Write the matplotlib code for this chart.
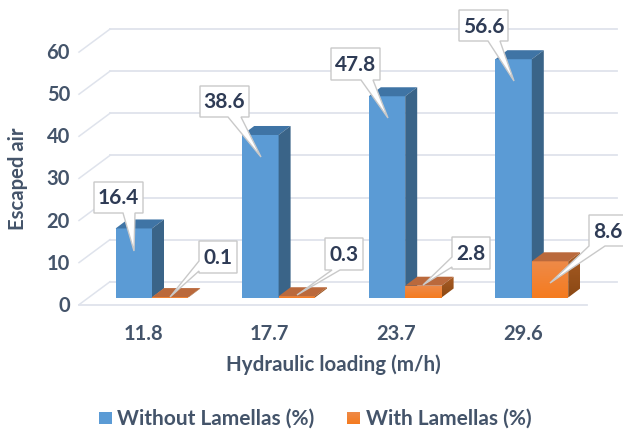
import numpy as np
import matplotlib
matplotlib.use('Agg')
import matplotlib.pyplot as plt
from matplotlib.colors import LinearSegmentedColormap
from matplotlib.patches import Polygon, Rectangle

categories = ['11.8', '17.7', '23.7', '29.6']
without_lamellas = [16.4, 38.6, 47.8, 56.6]
with_lamellas = [0.1, 0.3, 2.8, 8.6]
y_ticks = [0, 10, 20, 30, 40, 50, 60]

W, H = 623, 431
X_UNIT, Y_UNIT = 126.6, 4.21   # pixels per category, pixels per %
X0, Y0 = 152, 298.5            # pixel of first category, pixel of value 0


def X(px):
    return (px - X0) / X_UNIT


def Y(py):
    return (Y0 - py) / Y_UNIT


bar_w = 36.4 / X_UNIT
dx = 12 / X_UNIT
dy = 9 / Y_UNIT

TEXT = '#44546A'
DARK = '#2E3B55'
GRID = '#DFE3EC'

plt.rcParams['font.family'] = ['Lato', 'DejaVu Sans']

fig = plt.figure(figsize=(W / 100, H / 100), dpi=100)
ax = fig.add_axes([0, 0, 1, 1])

orange_cm = LinearSegmentedColormap.from_list('front', ['#EE8A48', '#F57B1F'])
side_cm = LinearSegmentedColormap.from_list('side', ['#A85C24', '#8A4814'])
grad = np.linspace(0, 1, 64).reshape(-1, 1)


def gradient_poly(xy, cmap, z):
    xy = np.array(xy)
    poly = Polygon(xy, closed=True, fc='none', ec='none', zorder=z)
    ax.add_patch(poly)
    im = ax.imshow(grad, cmap=cmap, aspect='auto', zorder=z,
                   extent=[xy[:, 0].min(), xy[:, 0].max(), xy[:, 1].min(), xy[:, 1].max()])
    im.set_clip_path(poly)


def bar3d(left, value, front, top, side, z):
    right = left + bar_w
    if isinstance(front, str):
        ax.add_patch(Rectangle((left, 0), bar_w, value, fc=front, ec='none', zorder=z))
    else:
        gradient_poly([(left, 0), (right, 0), (right, value), (left, value)], front, z)
    top_xy = [(left, value), (right, value), (right + dx, value + dy), (left + dx, value + dy)]
    ax.add_patch(Polygon(top_xy, closed=True, fc=top, ec='none', zorder=z))
    side_xy = [(right, 0), (right + dx, dy), (right + dx, value + dy), (right, value)]
    if isinstance(side, str):
        ax.add_patch(Polygon(side_xy, closed=True, fc=side, ec='none', zorder=z))
    else:
        gradient_poly(side_xy, side, z)


# back wall gridlines and the diagonals on the left side
for v in y_ticks:
    back = Y(282.7) + v
    front_y = Y(305.7) + v
    ax.plot([X(110), X(617.5)], [back, back], color=GRID, lw=1.3, zorder=1)
    ax.plot([X(79), X(110)], [front_y, back], color=GRID, lw=1.1, zorder=1)
    ax.text(X(70), front_y, str(v), ha='right', va='center', fontsize=14.5,
            fontweight='bold', color=TEXT)
ax.plot([X(79), X(586.5)], [Y(305.7), Y(305.7)], color=GRID, lw=1.3, zorder=1)

for i in range(len(categories)):
    bar3d(i - bar_w, without_lamellas[i], '#5B9BD5', '#3F74A5', '#3A6488', 3 + i)
    bar3d(i, with_lamellas[i], orange_cm, '#BA693C', side_cm, 3.5 + i)
    ax.text(X(143) + i, Y(334.5), categories[i], ha='center', va='center', fontsize=14.5,
            fontweight='bold', color=TEXT)

# callouts: box left, top, right, bottom, tip, wedge base, edge the wedge leaves from
callouts = [
    ('16.4', (94, 183, 143, 214), (134, 252), (123, 135), 'bottom'),
    ('38.6', (200, 87, 249, 118), (261, 158), (228, 241), 'bottom'),
    ('47.8', (331, 49, 380, 81), (388, 119), (361, 373), 'bottom'),
    ('56.6', (459, 11, 508, 42), (514, 82), (488, 500), 'bottom'),
    ('0.1', (199, 242, 237, 274), (170, 298), (262, 272), 'left'),
    ('0.3', (325, 239, 363, 271), (297, 296), (332, 340), 'bottom'),
    ('2.8', (452, 238, 490, 270), (423, 286), (258, 268), 'left'),
    ('8.6', (589, 216, 626, 247), (550, 284), (589, 605), 'bottom'),
]
for label, box, tip, base, edge in callouts:
    l, t, r, b = box
    pts = [(l, t), (r, t), (r, b)]
    if edge == 'bottom':
        pts += [(base[1], b), tip, (base[0], b), (l, b)]
    else:
        pts += [(l, b), (l, base[1]), tip, (l, base[0])]
    ax.add_patch(Polygon([(X(a), Y(c)) for a, c in pts], closed=True, fc='white',
                         ec='#C9C9C9', lw=1.0, zorder=20, joinstyle='miter'))
    ax.text(X((l + r) / 2 if label != '8.6' else 608), Y((t + b) / 2), label, ha='center',
            va='center', fontsize=15, fontweight='bold', color=DARK, zorder=21)

ax.text(X(18), Y(179), 'Escaped air', rotation=90, ha='center', va='center',
        fontsize=14.6, fontweight='bold', color=TEXT)
ax.text(X(333), Y(365), 'Hydraulic loading (m/h)', ha='center', va='center',
        fontsize=14.8, fontweight='bold', color=TEXT)

# legend
ax.add_patch(Rectangle((X(99), Y(425)), 13 / X_UNIT, 12 / Y_UNIT, fc='#5B9BD5', ec='none'))
gradient_poly([(X(347), Y(425)), (X(360), Y(425)), (X(360), Y(413)), (X(347), Y(413))], orange_cm, 2)
ax.text(X(117), Y(418.5), 'Without Lamellas (%)', ha='left', va='center', fontsize=15,
        fontweight='bold', color=TEXT)
ax.text(X(366), Y(418.5), 'With Lamellas (%)', ha='left', va='center', fontsize=15,
        fontweight='bold', color=TEXT)

ax.set_xlim(X(0), X(W))
ax.set_ylim(Y(H), Y(0))
ax.axis('off')

fig.savefig('out.png', dpi=100)
